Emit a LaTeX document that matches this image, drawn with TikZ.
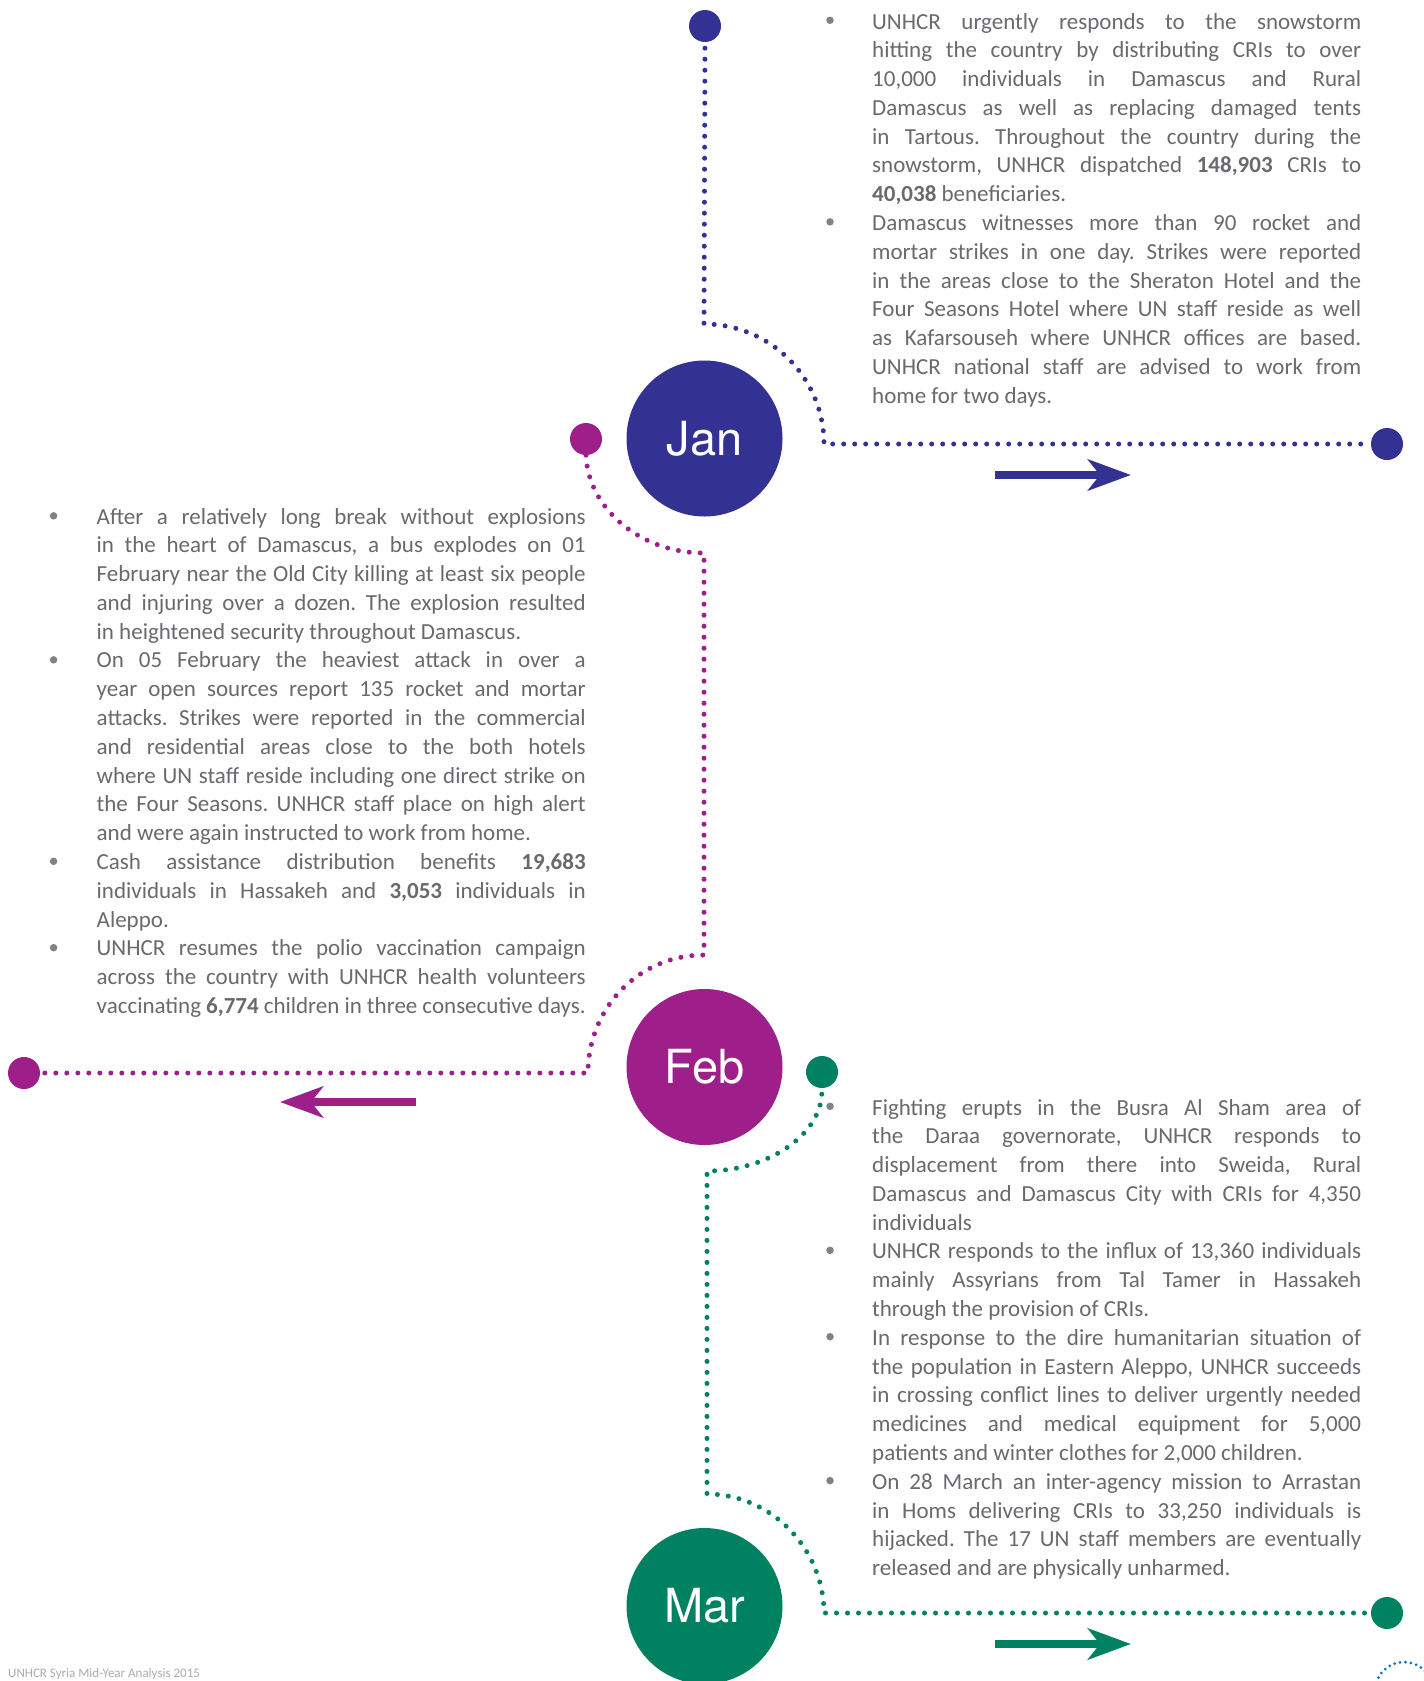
\documentclass[tikz,border=0pt]{standalone}
\usepackage{fontspec}
\setmainfont{Carlito}
\newfontfamily\headfont{TeX Gyre Heros}
\usetikzlibrary{arrows.meta}
\definecolor{janc}{RGB}{51,49,145}
\definecolor{febc}{RGB}{158,31,137}
\definecolor{marc}{RGB}{0,130,98}
\definecolor{txtc}{RGB}{105,106,109}
\definecolor{bulc}{RGB}{128,130,133}
\definecolor{footc}{RGB}{170,172,175}
\definecolor{pgc}{RGB}{0,114,188}
\frenchspacing
\newlength\colw
\setlength\colw{489pt}
\newcommand\JL[1]{\hbox to \colw{#1}}
\newcommand\LL[1]{\hbox{#1}}
\begin{document}
\begin{tikzpicture}[x=1pt,y=-1pt,
  dotline/.style={line width=5pt, line cap=round, dash pattern=on 0pt off 11pt},
  bigc/.style={circle, minimum size=156pt, inner sep=0pt, text=white, font=\headfont\fontsize{47}{50}\selectfont},
  endpt/.style={circle, minimum size=32pt, inner sep=0pt},
  bul/.style={circle, fill=bulc, minimum size=7.5pt, inner sep=0pt},
  txt/.style={anchor=base west, inner sep=0pt, text=txtc, font=\fontsize{23}{28.79}\selectfont},
  bigarrow/.style={line width=8pt, -{Stealth[length=43pt,width=31pt,inset=12pt]}}]
\useasboundingbox (0,0) rectangle (1424,1681);
\fill[white] (0,0) rectangle (1424,1681);

% end dots
\node[endpt, fill=janc] (jtop) at (705,26) {};
\node[endpt, fill=janc] (jend) at (1387,444) {};
\node[endpt, fill=febc] (fstart) at (586,439) {};
\node[endpt, fill=febc] (fend) at (24,1073) {};
\node[endpt, fill=marc] (mstart) at (822,1072) {};
\node[endpt, fill=marc] (mend) at (1387,1613) {};

% connectors
\draw[dotline, janc, shorten <=6pt] (jtop.south) -- (704,324) .. controls (770.3,324) and (824,377.7) .. (824,444) -- (jend.west);
\draw[dotline, febc] (fstart.south) .. controls (588,508) and (639.9,553) .. (704,553) -- (704,955) .. controls (638.8,955) and (588,1007.8) .. (588,1073) -- (fend.east);
\draw[dotline, marc, shorten <=6pt] (mstart.south) .. controls (820,1134.7) and (768.3,1171) .. (707,1171) -- (707,1494) .. controls (771.6,1494) and (824,1549.4) .. (824,1613) -- (mend.west);

% month circles
\node[bigc, fill=janc] (jan) at (704.5,438.5) {Jan};
\node[bigc, fill=febc] (feb) at (704.5,1067) {Feb};
\node[bigc, fill=marc] (mar) at (704.5,1606) {Mar};

% direction arrows
\coordinate (ja0) at (995,475); \coordinate (ja1) at (1131,475);
\coordinate (fa0) at (416,1102); \coordinate (fa1) at (280,1102);
\coordinate (ma0) at (995,1644); \coordinate (ma1) at (1131,1644);
\draw[bigarrow, janc] (ja0) -- (ja1);
\draw[bigarrow, febc] (fa0) -- (fa1);
\draw[bigarrow, marc] (ma0) -- (ma1);

% bullets
\node[bul] (b11) at (830,20.3) {};
\node[bul] (b12) at (830,221.9) {};
\node[bul] (b21) at (53.6,515.8) {};
\node[bul] (b22) at (53.6,659.8) {};
\node[bul] (b23) at (53.6,861.3) {};
\node[bul] (b24) at (53.6,947.7) {};
\node[bul] (b31) at (830,1106.3) {};
\node[bul] (b32) at (830,1250.3) {};
\node[bul] (b33) at (830,1336.7) {};
\node[bul] (b34) at (830,1480.6) {};

% text blocks
\node[txt] (t1) at (872,29) {\vtop{\baselineskip=28.79pt
\JL{UNHCR urgently responds to the snowstorm}
\JL{hitting the country by distributing CRIs to over}
\JL{10,000 individuals in Damascus and Rural}
\JL{Damascus as well as replacing damaged tents}
\JL{in Tartous. Throughout the country during the}
\JL{snowstorm, UNHCR dispatched \textbf{148,903} CRIs to}
\LL{\textbf{40,038} beneficiaries.}
\JL{Damascus witnesses more than 90 rocket and}
\JL{mortar strikes in one day. Strikes were reported}
\JL{in the areas close to the Sheraton Hotel and the}
\JL{Four Seasons Hotel where UN staff reside as well}
\JL{as Kafarsouseh where UNHCR offices are based.}
\JL{UNHCR national staff are advised to work from}
\LL{home for two days.}}};

\node[txt] (t2) at (96.5,524) {\vtop{\baselineskip=28.79pt
\JL{After a relatively long break without explosions}
\JL{in the heart of Damascus, a bus explodes on 01}
\JL{February near the Old City killing at least six people}
\JL{and injuring over a dozen. The explosion resulted}
\LL{in heightened security throughout Damascus.}
\JL{On 05 February the heaviest attack in over a}
\JL{year open sources report 135 rocket and mortar}
\JL{attacks. Strikes were reported in the commercial}
\JL{and residential areas close to the both hotels}
\JL{where UN staff reside including one direct strike on}
\JL{the Four Seasons. UNHCR staff place on high alert}
\LL{and were again instructed to work from home.}
\JL{Cash assistance distribution benefits \textbf{19,683}}
\JL{individuals in Hassakeh and \textbf{3,053} individuals in}
\LL{Aleppo.}
\JL{UNHCR resumes the polio vaccination campaign}
\JL{across the country with UNHCR health volunteers}
\JL{vaccinating \textbf{6,774} children in three consecutive days.}}};

\node[txt] (t3) at (872,1115) {\vtop{\baselineskip=28.79pt
\JL{Fighting erupts in the Busra Al Sham area of}
\JL{the Daraa governorate, UNHCR responds to}
\JL{displacement from there into Sweida, Rural}
\JL{Damascus and Damascus City with CRIs for 4,350}
\LL{individuals}
\JL{UNHCR responds to the influx of 13,360 individuals}
\JL{mainly Assyrians from Tal Tamer in Hassakeh}
\LL{through the provision of CRIs.}
\JL{In response to the dire humanitarian situation of}
\JL{the population in Eastern Aleppo, UNHCR succeeds}
\JL{in crossing conflict lines to deliver urgently needed}
\JL{medicines and medical equipment for 5,000}
\LL{patients and winter clothes for 2,000 children.}
\JL{On 28 March an inter-agency mission to Arrastan}
\JL{in Homs delivering CRIs to 33,250 individuals is}
\JL{hijacked. The 17 UN staff members are eventually}
\LL{released and are physically unharmed.}}};

% footer and page marker
\node[anchor=base west, inner sep=0pt, text=footc, font=\fontsize{13}{15}\selectfont] (foot) at (8,1677) {UNHCR Syria Mid-Year Analysis 2015};
\draw[pgc, line width=3pt, line cap=round, dash pattern=on 0pt off 5.5pt] (1404,1691) circle[radius=29pt];
\end{tikzpicture}
\end{document}
